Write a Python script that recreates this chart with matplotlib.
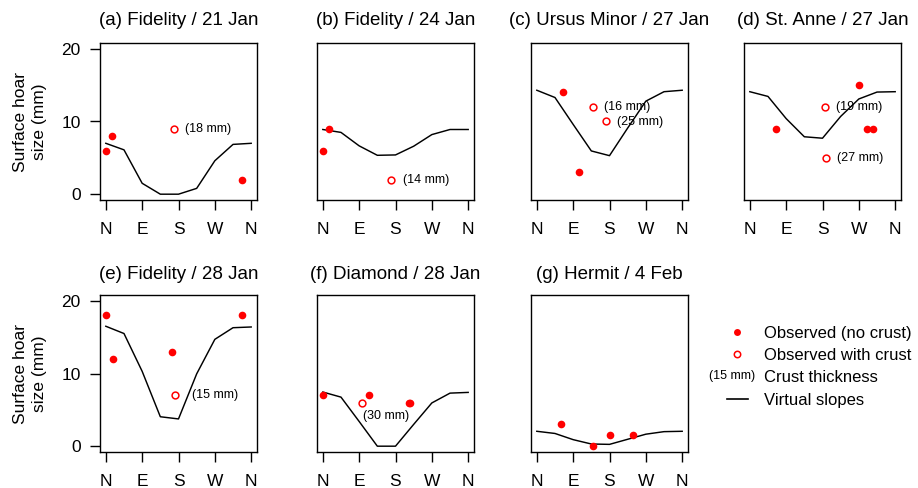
import matplotlib
matplotlib.use("Agg")
import matplotlib.pyplot as plt
import matplotlib.text as mtext
from matplotlib.lines import Line2D
from matplotlib.legend_handler import HandlerBase

plt.rcParams['font.family'] = ['Liberation Sans', 'DejaVu Sans']

# ---------------- data ----------------
AZIMUTH_TICKS = [0, 90, 180, 270, 360]
AZIMUTH_LABELS = ['N', 'E', 'S', 'W', 'N']
SIZE_TICKS = [0, 10, 20]
VIRTUAL_AZ = [0, 45, 90, 135, 180, 225, 270, 315, 360]

titles = ['(a) Fidelity / 21 Jan', '(b) Fidelity / 24 Jan', '(c) Ursus Minor / 27 Jan',
          '(d) St. Anne / 27 Jan', '(e) Fidelity / 28 Jan', '(f) Diamond / 28 Jan',
          '(g) Hermit / 4 Feb']

virtual_a = [7.0, 6.1, 1.5, 0.0, 0.0, 0.8, 4.6, 6.85, 7.0]
virtual_b = [8.9, 8.5, 6.65, 5.35, 5.4, 6.6, 8.2, 8.9, 8.9]
virtual_c = [14.3, 13.3, 9.6, 5.95, 5.3, 9.1, 12.8, 14.1, 14.3]
virtual_d = [14.1, 13.45, 10.4, 7.9, 7.7, 10.7, 13.1, 14.05, 14.1]
virtual_e = [16.5, 15.5, 10.3, 4.05, 3.75, 9.95, 14.7, 16.3, 16.4]
virtual_f = [7.45, 6.75, 3.4, 0.0, 0.0, 3.0, 5.95, 7.3, 7.4]
virtual_g = [2.05, 1.75, 0.9, 0.3, 0.25, 0.95, 1.65, 2.0, 2.05]

obs_a_az = [0, 16, 338]
obs_a_size = [6, 8, 2]
obs_b_az = [0, 16]
obs_b_size = [6, 9]
obs_c_az = [65, 105]
obs_c_size = [14, 3]
obs_d_az = [65, 270, 289, 305]
obs_d_size = [9, 15, 9, 9]
obs_e_az = [0, 17, 165, 338]
obs_e_size = [18, 12, 13, 18]
obs_f_az = [0, 115, 213, 215]
obs_f_size = [7, 7, 6, 6]
obs_g_az = [61, 140, 180, 238]
obs_g_size = [3, 0, 1.5, 1.5]

crust_a_az = [169]
crust_a_size = [9]
crust_a_mm = ['(18 mm)']
crust_b_az = [170]
crust_b_size = [2]
crust_b_mm = ['(14 mm)']
crust_c_az = [140, 171]
crust_c_size = [12, 10]
crust_c_mm = ['(16 mm)', '(25 mm)']
crust_d_az = [185, 188]
crust_d_size = [12, 5]
crust_d_mm = ['(19 mm)', '(27 mm)']
crust_e_az = [171]
crust_e_size = [7]
crust_e_mm = ['(15 mm)']
crust_f_az = [97]
crust_f_size = [6]
crust_f_mm = ['(30 mm)']
crust_g_az = []
crust_g_size = []
crust_g_mm = []

legend_labels = ['Observed (no crust)', 'Observed with crust', 'Crust thickness', 'Virtual slopes']
legend_crust_example = '(15 mm)'

# ---------------- layout / style ----------------
W, H = 918, 488
RED = '#FF0000'
lefts_px = [100, 317, 531, 744]
row_tops_px = [43, 295]
ax_w_px, ax_h_px = 157, 157

# label offsets (points) and alignment for crust annotations
right_off = ((8, 0), 'left')
label_style = {
    'a': [right_off], 'b': [right_off], 'c': [right_off, right_off],
    'd': [right_off, right_off], 'e': [((12, 0), 'left')],
    'f': [((17, -10), 'center')], 'g': [],
}

panels = [
    ('a', virtual_a, obs_a_az, obs_a_size, crust_a_az, crust_a_size, crust_a_mm),
    ('b', virtual_b, obs_b_az, obs_b_size, crust_b_az, crust_b_size, crust_b_mm),
    ('c', virtual_c, obs_c_az, obs_c_size, crust_c_az, crust_c_size, crust_c_mm),
    ('d', virtual_d, obs_d_az, obs_d_size, crust_d_az, crust_d_size, crust_d_mm),
    ('e', virtual_e, obs_e_az, obs_e_size, crust_e_az, crust_e_size, crust_e_mm),
    ('f', virtual_f, obs_f_az, obs_f_size, crust_f_az, crust_f_size, crust_f_mm),
    ('g', virtual_g, obs_g_az, obs_g_size, crust_g_az, crust_g_size, crust_g_mm),
]

fig = plt.figure(figsize=(W / 100, H / 100), dpi=100)

for i, (key, vline, oaz, osz, caz, csz, cmm) in enumerate(panels):
    row, col = divmod(i, 4)
    left = lefts_px[col] / W
    bottom = (H - row_tops_px[row] - ax_h_px) / H
    ax = fig.add_axes([left, bottom, ax_w_px / W, ax_h_px / H])
    ax.plot(VIRTUAL_AZ, vline, color='black', lw=1.05, zorder=2)
    ax.plot(oaz, osz, 'o', color=RED, ms=5.5, mew=0, zorder=3, clip_on=False)
    ax.plot(caz, csz, 'o', mfc='white', mec=RED, ms=4.9, mew=1.1, zorder=3, clip_on=False)
    for (x, y, txt), ((dx, dy), ha) in zip(zip(caz, csz, cmm), label_style[key]):
        ax.annotate(txt, (x, y), xytext=(dx, dy), textcoords='offset points',
                    ha=ha, va='center', fontsize=9, zorder=4)
    ax.set_xlim(-14.4, 374.4)
    ax.set_ylim(-0.8, 20.8)
    ax.set_xticks(AZIMUTH_TICKS)
    ax.set_xticklabels(AZIMUTH_LABELS)
    ax.tick_params(axis='x', direction='out', length=7.5, width=1.0, pad=8.0, labelsize=12.5)
    if col == 0:
        ax.set_yticks(SIZE_TICKS)
        ax.tick_params(axis='y', direction='out', length=7.5, width=1.0, pad=6.5, labelsize=12.5)
        ax.set_ylabel('Surface hoar\nsize (mm)', fontsize=12.5, linespacing=1.3)
        ax.yaxis.set_label_coords(-0.34, 0.5)
    else:
        ax.set_yticks([])
    for s in ax.spines.values():
        s.set_linewidth(1.0)
    ax.set_title(titles[i], fontsize=13.5, pad=13 if row == 0 else 11.5)


class CrustLabel:
    def __init__(self, text):
        self.text = text


class HandlerCrustLabel(HandlerBase):
    def create_artists(self, legend, orig_handle, xdescent, ydescent, width, height, fontsize, trans):
        t = mtext.Text(width / 2 - xdescent - 4, height / 2 - ydescent, orig_handle.text,
                       ha='center', va='center', fontsize=9, transform=trans)
        return [t]


handles = [
    Line2D([], [], ls='none', marker='o', color=RED, ms=5.0, mew=0),
    Line2D([], [], ls='none', marker='o', mfc='white', mec=RED, ms=4.6, mew=1.1),
    CrustLabel(legend_crust_example),
    Line2D([], [], color='black', lw=1.2),
]
fig.legend(handles, legend_labels, handler_map={CrustLabel: HandlerCrustLabel()},
           loc='upper left', bbox_to_anchor=(727 / W, (H - 326) / H), frameon=False,
           fontsize=12, handlelength=1.25, handletextpad=1.0, labelspacing=0.43,
           borderpad=0, borderaxespad=0)

fig.savefig('out.png', dpi=100)
